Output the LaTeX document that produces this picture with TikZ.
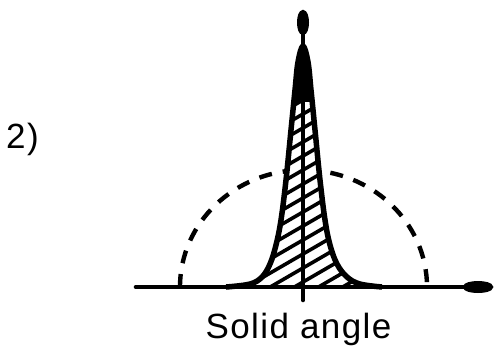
\documentclass[tikz,border=0pt]{standalone}
\usepackage{fontspec}
\setmainfont{Liberation Sans}
\usetikzlibrary{arrows.meta}
\begin{document}
\begin{tikzpicture}[x=1pt,y=-1pt,
  axisline/.style={line width=4.6pt,line cap=round},
  lobeline/.style={line width=5.5pt,line join=round},
  hatchline/.style={line width=3.6pt},
  dashline/.style={line width=4.4pt,dash pattern=on 13pt off 11pt},
  lbl/.style={inner sep=0pt,font=\fontsize{35}{40}\selectfont\addfontfeature{LetterSpace=4}}]
\useasboundingbox[fill=white] (0,0) rectangle (494,354);
% coordinates
\coordinate (o) at (303,287);
\coordinate (xl) at (136,287);
\coordinate (xr) at (493,287);
\coordinate (yb) at (303,300);
\coordinate (yt) at (303,10);
% dashed semi-ellipse
\draw[dashline] (180,287) arc[start angle=180,end angle=360,x radius=123.5,y radius=117];
% lobe
\def\lobe{plot[smooth,tension=0.6] coordinates {(226,287) (250,284) (262,277) (270,264) (276,245) (281,220) (286,180) (291,130) (295,90) (298,62) (303,46) (308,62) (311,90) (315,130) (320,180) (325,220) (330,245) (337,264) (347,277) (360,284) (382,287)}}
\fill[white] \lobe -- cycle;
\begin{scope}
\clip \lobe -- cycle;
\foreach \c in {100,114,...,320} {
  \draw[hatchline] (240,\c+0.58*63) -- (370,\c-0.58*67);
}
\fill[black] (240,30) rectangle (370,102);
\end{scope}
\draw[lobeline] \lobe;
% axes
\draw[axisline,-{Ellipse[length=30pt,width=12pt]}] (xl) -- (xr);
\draw[axisline,-{Ellipse[length=25pt,width=12pt]}] (yb) -- (yt);
% labels
\node[lbl,anchor=base west] (num) at (6,148) {2)};
\node[lbl,anchor=base] (cap) at (298.5,338) {Solid angle};
\end{tikzpicture}
\end{document}
